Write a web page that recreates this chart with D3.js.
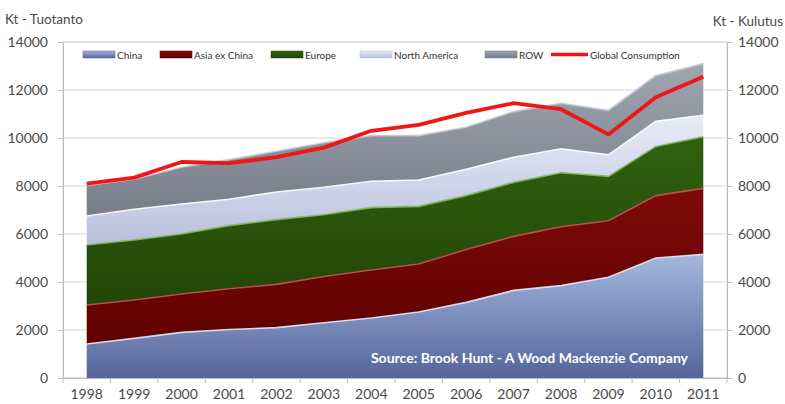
<!DOCTYPE html>
<html><head><meta charset="utf-8">
<script src="https://cdn.jsdelivr.net/npm/d3@7"></script>
<style>
html,body{margin:0;padding:0;background:#fff;}
svg{display:block;font-family:Lato,"Open Sans",sans-serif;}
</style></head>
<body>
<svg id="c" width="785" height="404"></svg>
<script>
const years = [1998,1999,2000,2001,2002,2003,2004,2005,2006,2007,2008,2009,2010,2011];
const seriesNames = ["China","Asia ex China","Europe","North America","ROW"];
const china        = [1420,1650,1900,2020,2100,2300,2500,2750,3150,3650,3850,4200,5000,5150];
const asiaExChina  = [1620,1600,1600,1700,1800,1930,2000,2000,2200,2250,2450,2350,2600,2750];
const europe       = [2500,2500,2500,2630,2700,2570,2600,2400,2250,2250,2250,1850,2050,2150];
const northAmerica = [1210,1280,1250,1100,1150,1150,1100,1100,1100,1050,1000,900,1050,900];
const row          = [1270,1250,1530,1650,1700,1850,1900,1850,1750,1900,1900,1850,1900,2150];
const consumption  = [8100,8350,9000,8950,9200,9600,10300,10550,11050,11450,11200,10150,11700,12550];
const yTicks = [0,2000,4000,6000,8000,10000,12000,14000];
const consumptionName = "Global Consumption";
const leftTitle = "Kt - Tuotanto", rightTitle = "Kt - Kulutus";
const sourceText = "Source: Brook Hunt - A Wood Mackenzie Company";

const styles = [
  {top:"#a3b7de", bot:"#55659a", edge:"#dfe8fa"},
  {top:"#7e0a0a", bot:"#600000", edge:"#c05050"},
  {top:"#30620f", bot:"#234507", edge:"#80b458"},
  {top:"#e8ebf8", bot:"#b8c0dc", edge:"#ffffff"},
  {top:"#a0a6b0", bot:"#767d89", edge:"#c4cad0"}
];

const svg = d3.select("#c");
const L = 63, R = 727, T = 42, B = 378;
const table = years.map((y,i)=>({year:y,"China":china[i],"Asia ex China":asiaExChina[i],"Europe":europe[i],"North America":northAmerica[i],"ROW":row[i]}));
const x = d3.scaleBand().domain(years).range([L,R]).padding(0);
const cx = d => x(d) + x.bandwidth()/2;
const y = d3.scaleLinear().domain([0,14000]).range([B,T]);

const defs = svg.append("defs");
styles.forEach((s,i)=>{
  const g = defs.append("linearGradient").attr("id","g"+i).attr("x1",0).attr("y1",0).attr("x2",0).attr("y2",1);
  g.append("stop").attr("offset","0%").attr("stop-color",s.top);
  g.append("stop").attr("offset","100%").attr("stop-color",s.bot);
});

// plot frame + grid
svg.append("rect").attr("x",L).attr("y",T).attr("width",R-L).attr("height",B-T).attr("fill","#fff").attr("stroke","#d8d8d8");
svg.append("g").selectAll("line").data(yTicks).join("line")
  .attr("x1",L).attr("x2",R).attr("y1",d=>y(d)).attr("y2",d=>y(d)).attr("stroke","#d4d4d4");

// stacked areas
const stack = d3.stack().keys(seriesNames);
const layers = stack(table);
const area = d3.area().x(d=>cx(d.data.year)).y0(d=>y(d[0])).y1(d=>y(d[1]));
const topLine = d3.line().x(d=>cx(d.data.year)).y(d=>y(d[1]));
svg.append("g").selectAll("path").data(layers).join("path")
  .attr("d",area).attr("fill",(d,i)=>`url(#g${i})`);
svg.append("g").selectAll("path").data(layers).join("path")
  .attr("d",topLine).attr("fill","none").attr("stroke",(d,i)=>styles[i].edge).attr("stroke-width",1.6).attr("opacity",0.9);

// consumption line
svg.append("path").datum(consumption)
  .attr("d",d3.line().x((d,i)=>cx(years[i])).y(d=>y(d)))
  .attr("fill","none").attr("stroke","#f01616").attr("stroke-width",3.8).attr("stroke-linejoin","round");

// axes
const fmt = d3.format("d");
const axL = svg.append("g").attr("transform",`translate(${L},0)`)
  .call(d3.axisLeft(y).tickValues(yTicks).tickFormat(fmt).tickSize(5).tickPadding(10).tickSizeOuter(0));
const axR = svg.append("g").attr("transform",`translate(${R},0)`)
  .call(d3.axisRight(y).tickValues(yTicks).tickFormat(fmt).tickSize(5).tickPadding(6).tickSizeOuter(0));
const axB = svg.append("g").attr("transform",`translate(0,${B})`)
  .call(d3.axisBottom(x).tickSize(0).tickPadding(11).tickSizeOuter(0));
[axL,axR,axB].forEach(a=>{
  a.selectAll(".domain").attr("stroke","#bdbdbd");
  a.selectAll(".tick line").attr("stroke","#bdbdbd");
  a.selectAll("text").attr("fill","#4a4a4a").style("font-size","14px").style("font-family","Lato,sans-serif");
});
// boundary ticks on category axis
svg.append("g").selectAll("line").data(d3.range(years.length+1)).join("line")
  .attr("x1",i=>L+i*x.step()).attr("x2",i=>L+i*x.step()).attr("y1",B).attr("y2",B+5).attr("stroke","#bdbdbd");

// titles
svg.append("text").attr("x",5).attr("y",24).text(leftTitle).attr("fill","#4a4a4a").style("font-size","13.5px");
svg.append("text").attr("x",783).attr("y",26).attr("text-anchor","end").text(rightTitle).attr("fill","#4a4a4a").style("font-size","13.5px");

// legend
const legendX = [83,160,271,360,485];
const lg = svg.append("g");
seriesNames.forEach((n,i)=>{
  lg.append("rect").attr("x",legendX[i]).attr("y",51).attr("width",32).attr("height",7).attr("fill",`url(#g${i})`).attr("stroke",styles[i].bot).attr("stroke-width",0.5);
  lg.append("text").attr("x",legendX[i]+34).attr("y",58.5).text(n).attr("fill","#333").style("font-size","10px");
});
lg.append("line").attr("x1",551).attr("x2",588).attr("y1",54.5).attr("y2",54.5).attr("stroke","#f01616").attr("stroke-width",3.5);
lg.append("text").attr("x",590).attr("y",58.5).text(consumptionName).attr("fill","#333").style("font-size","10px");

// source
svg.append("text").attr("x",688).attr("y",363).attr("text-anchor","end").text(sourceText)
  .attr("fill","#fff").style("font-size","14px").style("font-weight","bold");
</script>
</body></html>
